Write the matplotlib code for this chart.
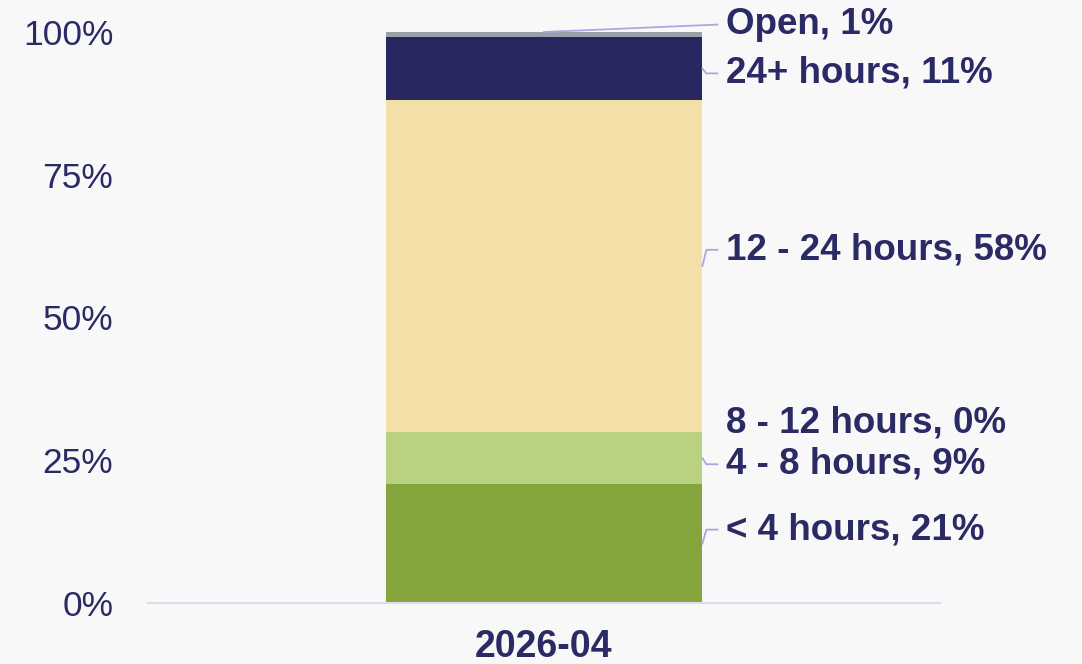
import matplotlib
matplotlib.use("Agg")
import matplotlib.pyplot as plt
import numpy as np

# ---- data ----
category = "2026-04"
series_names = ["< 4 hours", "4 - 8 hours", "8 - 12 hours", "12 - 24 hours", "24+ hours", "Open"]
series_values = [20.8, 9.1, 0.0, 58.2, 11.0, 0.9]
series_colors = ["#84a43c", "#b9d281", "#f0a860", "#f2e0a8", "#282860", "#9aa0a6"]
y_ticks = [0, 25, 50, 75, 100]
y_tick_labels = ["0%", "25%", "50%", "75%", "100%"]

# ---- layout (label placement offsets in percent units) ----
label_offsets = [2.9, -0.6, 2.0, 3.3, -0.4, 2.2]
label_shift = -0.45

TEXT = "#2a2a64"
LEADER = "#a8a8e0"
BG = "#f8f8f8"

plt.rcParams["font.family"] = ["Liberation Sans", "DejaVu Sans"]

fig = plt.figure(figsize=(10.82, 6.64), dpi=100, facecolor=BG)
ax = fig.add_axes([148 / 1082, 61 / 664, 792 / 1082, 571 / 664])
ax.set_facecolor(BG)

bar_w = 0.4
bottom = 0.0
bottoms = []
for v, c in zip(series_values, series_colors):
    ax.bar(0, v, width=bar_w, bottom=bottom, color=c, linewidth=0, zorder=2)
    bottoms.append(bottom)
    bottom += v

ax.set_xlim(-0.5, 0.5)
ax.set_ylim(0, 100)
ax.set_yticks(y_ticks)
ax.set_yticklabels(y_tick_labels)
ax.set_xticks([0])
ax.set_xticklabels([category])
ax.tick_params(axis="y", length=0, pad=25, labelsize=25.5, labelcolor=TEXT)
ax.tick_params(axis="x", length=0, pad=19, labelsize=27, labelcolor=TEXT)
for t in ax.get_xticklabels():
    t.set_fontweight("bold")
for s in ["top", "right", "left"]:
    ax.spines[s].set_visible(False)
ax.spines["bottom"].set_color("#dcdcf0")
ax.spines["bottom"].set_linewidth(1.5)

px = 1 / 792.0
xr = bar_w / 2
for i, (name, v, b) in enumerate(zip(series_names, series_values, bottoms)):
    mid = b + v / 2
    ly = mid + label_offsets[i] + label_shift
    label = f"{name}, {round(v):.0f}%"
    ax.text(xr + 24 * px, ly, label, ha="left", va="center", fontsize=26.5,
            fontweight="bold", color=TEXT, clip_on=False, zorder=5)
    if v <= 0:
        continue
    if i == len(series_names) - 1:
        ax.plot([0, xr + 15 * px], [b + v, ly], color=LEADER, lw=1.3,
                clip_on=False, zorder=4)
    else:
        ax.plot([xr, xr + 4 * px, xr + 15 * px], [mid, ly, ly], color=LEADER,
                lw=1.3, clip_on=False, zorder=4)

fig.savefig("out.png", dpi=100, facecolor=BG)
